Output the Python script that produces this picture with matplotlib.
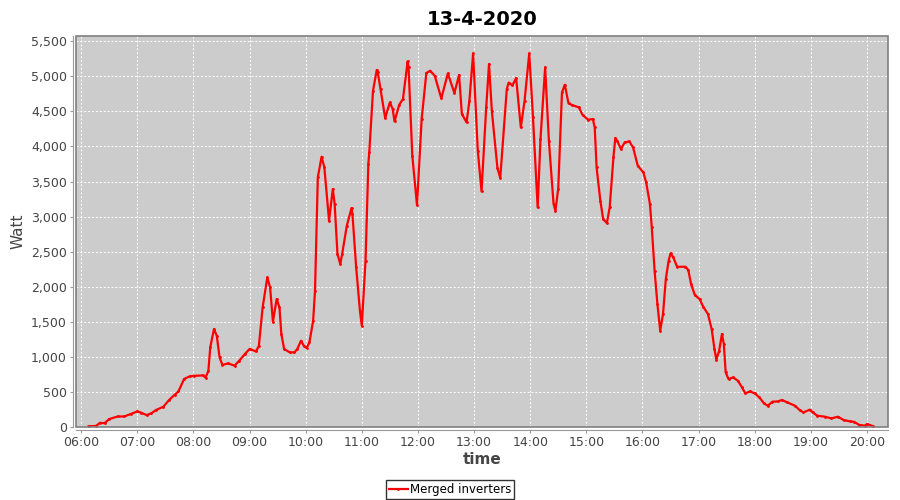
import matplotlib
matplotlib.use("Agg")
import matplotlib.pyplot as plt
import matplotlib.dates as mdates
from matplotlib.ticker import FuncFormatter, MultipleLocator
from matplotlib.patches import Rectangle
import pandas as pd

title = "13-4-2020"
series_name = "Merged inverters"
date = "2020-04-13"

times = ["06:08","06:16","06:20","06:25","06:30","06:39","06:46","06:53","07:00","07:04",
         "07:10","07:15","07:20","07:28","07:34","07:40","07:44","07:50","07:56","08:01",
         "08:10","08:13","08:16","08:18","08:22","08:25","08:28","08:31","08:37","08:44",
         "08:49","08:55","09:00","09:07","09:10","09:14","09:19","09:22","09:25","09:29",
         "09:32","09:34","09:37","09:43","09:48","09:51","09:55","09:58","10:01","10:04",
         "10:08","10:10","10:13","10:17","10:20","10:25","10:29","10:31","10:34","10:37",
         "10:39","10:44","10:49","10:50","10:54","10:58","11:00","11:04","11:07","11:08",
         "11:12","11:16","11:17","11:20","11:25","11:30","11:33","11:35","11:40","11:44",
         "11:49","11:50","11:54","11:59","12:04","12:09","12:13","12:18","12:25","12:32",
         "12:39","12:44","12:47","12:52","12:55","12:59","13:04","13:08","13:13","13:16",
         "13:19","13:25","13:28","13:35","13:37","13:41","13:45","13:50","13:54","13:59",
         "14:03","14:08","14:11","14:16","14:20","14:25","14:27","14:30","14:34","14:37",
         "14:41","14:45","14:52","14:56","15:02","15:07","15:09","15:11","15:15","15:18",
         "15:22","15:25","15:29","15:31","15:33","15:37","15:41","15:46","15:50","15:55",
         "16:01","16:04","16:08","16:10","16:13","16:16","16:19","16:22","16:25","16:28",
         "16:30","16:33","16:37","16:46","16:49","16:52","16:56","17:01","17:05","17:10",
         "17:14","17:17","17:19","17:22","17:25","17:27","17:29","17:32","17:37","17:42",
         "17:46","17:50","17:55","18:00","18:05","18:10","18:14","18:19","18:25","18:29",
         "18:35","18:43","18:48","18:52","18:59","19:02","19:07","19:15","19:22","19:29",
         "19:35","19:42","19:46","19:52","19:58","20:00","20:06"]

watts = [10,15,60,55,113,150,150,185,222,205,
         170,195,242,290,385,460,507,684,722,730,
         735,705,800,1135,1397,1300,992,884,907,874,
         945,1040,1112,1078,1159,1705,2133,1990,1501,1825,
         1705,1326,1112,1064,1064,1110,1230,1159,1126,1206,
         1515,1943,3559,3853,3701,2941,3393,3179,2466,2324,
         2466,2870,3122,3040,2275,1658,1444,2371,3750,3915,
         4795,5090,5060,4819,4405,4628,4536,4357,4595,4676,
         5213,5130,3868,3165,4391,5047,5080,5009,4685,5041,
         4762,5019,4462,4343,4647,5327,3939,3359,4557,5175,
         4510,3693,3550,4819,4910,4870,4976,4272,4650,5327,
         4414,3131,4100,5127,4082,3179,3084,3400,4771,4880,
         4614,4590,4557,4450,4381,4391,4272,3701,3226,2965,
         2908,3131,3844,4120,4080,3963,4058,4072,3986,3725,
         3630,3487,3179,2846,2228,1754,1373,1611,2110,2371,
         2475,2420,2285,2285,2238,2039,1882,1825,1715,1611,
         1397,1112,960,1088,1326,1183,778,684,707,660,
         575,479,508,479,422,336,304,361,365,385,
         351,304,242,208,247,208,161,147,123,147,
         100,80,75,28,20,43,14]

x = pd.to_datetime([f"{date} {t}" for t in times])

fig = plt.figure(figsize=(9, 5), dpi=100)
ax = fig.add_axes([76/900, 1-427/500, (888-76)/900, (427-36)/500])
ax.set_facecolor("#cccccc")

ax.plot(x, watts, color="#ff0000", lw=1.6, marker=".", ms=2, label=series_name, zorder=3)

ax.set_xlim(pd.Timestamp(f"{date} 05:54:30"), pd.Timestamp(f"{date} 20:22:30"))
ax.set_ylim(0, 5575)

ax.yaxis.set_major_locator(MultipleLocator(500))
ax.yaxis.set_major_formatter(FuncFormatter(lambda v, p: f"{int(v):,}"))
ax.xaxis.set_major_locator(mdates.HourLocator())
ax.xaxis.set_major_formatter(mdates.DateFormatter("%H:%M"))

ax.grid(True, color="white", linestyle=(0, (2, 2)), linewidth=0.7)
ax.set_axisbelow(True)

for s in ["top", "right"]:
    ax.spines[s].set_visible(False)
for s in ["left", "bottom"]:
    ax.spines[s].set_position(("outward", 2.5))
    ax.spines[s].set_color("#999999")
    ax.spines[s].set_linewidth(0.8)
ax.add_patch(Rectangle((0, 0), 1, 1, transform=ax.transAxes, fill=False,
                       edgecolor="#808080", lw=1.2, clip_on=False, zorder=5))

ax.tick_params(axis="both", colors="#999999", labelcolor="#444444", labelsize=9,
               length=2.5, width=0.8, pad=1.5)

ax.set_title(title, fontsize=14, fontweight="bold", pad=8)
ax.set_xlabel("time", fontsize=11, fontweight="bold", color="#444444", labelpad=2)
ax.set_ylabel("Watt", fontsize=11, color="#444444", labelpad=4)

leg = fig.legend(loc="lower center", bbox_to_anchor=(0.5, -0.005), fontsize=8.5,
                 frameon=True, fancybox=False, edgecolor="black", handlelength=1.6,
                 borderpad=0.25, handletextpad=0.2, borderaxespad=0.3)
leg.get_frame().set_linewidth(1.0)

fig.savefig("out.png", dpi=100)
